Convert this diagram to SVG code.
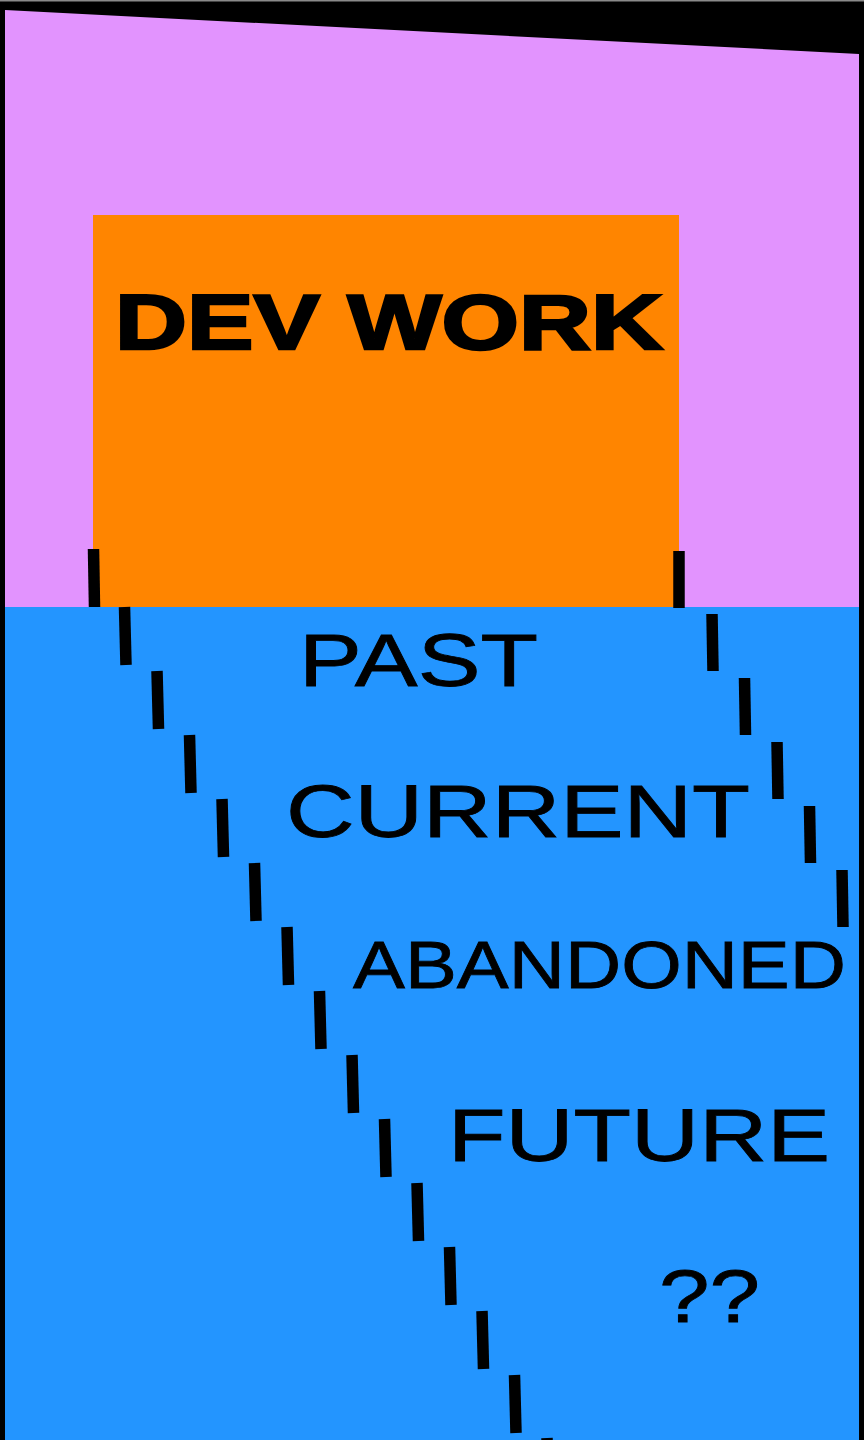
<svg xmlns="http://www.w3.org/2000/svg" width="864" height="1440" viewBox="0 0 864 1440">
<style>
.lbl{font-family:"Liberation Sans",Arial,sans-serif;fill:#000}
.dash{stroke:#000;stroke-width:11.5;stroke-linecap:butt}
</style>
<rect x="0" y="0" width="864" height="1440" fill="#000"/>
<rect x="0" y="0" width="864" height="1.5" fill="#8a8a8a"/>
<g id="pink-region">
<polygon points="5,10 859,54 859,607 5,607" fill="#e293fe"/>
</g>
<g id="blue-region">
<rect x="5" y="607" width="854" height="833" fill="#2395ff"/>
</g>
<g id="dev-work">
<rect x="93" y="215" width="586" height="392" fill="#ff8500"/>
<text class="lbl" x="115" y="349" font-size="77" font-weight="bold" stroke="#000" stroke-width="2.5" textLength="548" lengthAdjust="spacingAndGlyphs">DEV WORK</text>
</g>
<g id="past"><text class="lbl" x="299" y="686" font-size="75" stroke="#000" stroke-width="0.8" textLength="239" lengthAdjust="spacingAndGlyphs">PAST</text></g>
<g id="current"><text class="lbl" x="286" y="837" font-size="75" stroke="#000" stroke-width="0.8" textLength="464" lengthAdjust="spacingAndGlyphs">CURRENT</text></g>
<g id="abandoned"><text class="lbl" x="353" y="988" font-size="67" stroke="#000" stroke-width="0.8" textLength="493" lengthAdjust="spacingAndGlyphs">ABANDONED</text></g>
<g id="future"><text class="lbl" x="448" y="1161" font-size="75" stroke="#000" stroke-width="0.8" textLength="382" lengthAdjust="spacingAndGlyphs">FUTURE</text></g>
<g id="unknown"><text class="lbl" x="659" y="1322" font-size="75" stroke="#000" stroke-width="0.8" textLength="101" lengthAdjust="spacingAndGlyphs">??</text></g>
<g id="connectors">
<line class="dash" x1="93.5" y1="549" x2="94.5" y2="607"/>
<line class="dash" x1="124.5" y1="607" x2="126" y2="665"/>
<line class="dash" x1="157" y1="671" x2="158.5" y2="729"/>
<line class="dash" x1="189.5" y1="735" x2="191" y2="793"/>
<line class="dash" x1="222" y1="799" x2="223.5" y2="857"/>
<line class="dash" x1="254.5" y1="863" x2="256" y2="921"/>
<line class="dash" x1="287" y1="927" x2="288.5" y2="985"/>
<line class="dash" x1="319.5" y1="991" x2="321" y2="1049"/>
<line class="dash" x1="352" y1="1055" x2="353.5" y2="1113"/>
<line class="dash" x1="384.5" y1="1119" x2="386" y2="1177"/>
<line class="dash" x1="417" y1="1183" x2="418.5" y2="1241"/>
<line class="dash" x1="449.5" y1="1247" x2="451" y2="1305"/>
<line class="dash" x1="482" y1="1311" x2="483.5" y2="1369"/>
<line class="dash" x1="514.5" y1="1375" x2="516" y2="1433"/>
<line class="dash" x1="547" y1="1438" x2="548.5" y2="1496"/>
<line class="dash" x1="679" y1="551" x2="679" y2="608"/>
<line class="dash" x1="712" y1="614" x2="713" y2="671"/>
<line class="dash" x1="744.5" y1="678" x2="745.5" y2="735"/>
<line class="dash" x1="777" y1="742" x2="778" y2="799"/>
<line class="dash" x1="809.5" y1="806" x2="810.5" y2="863"/>
<line class="dash" x1="842" y1="870" x2="843" y2="927"/>
</g>
</svg>
